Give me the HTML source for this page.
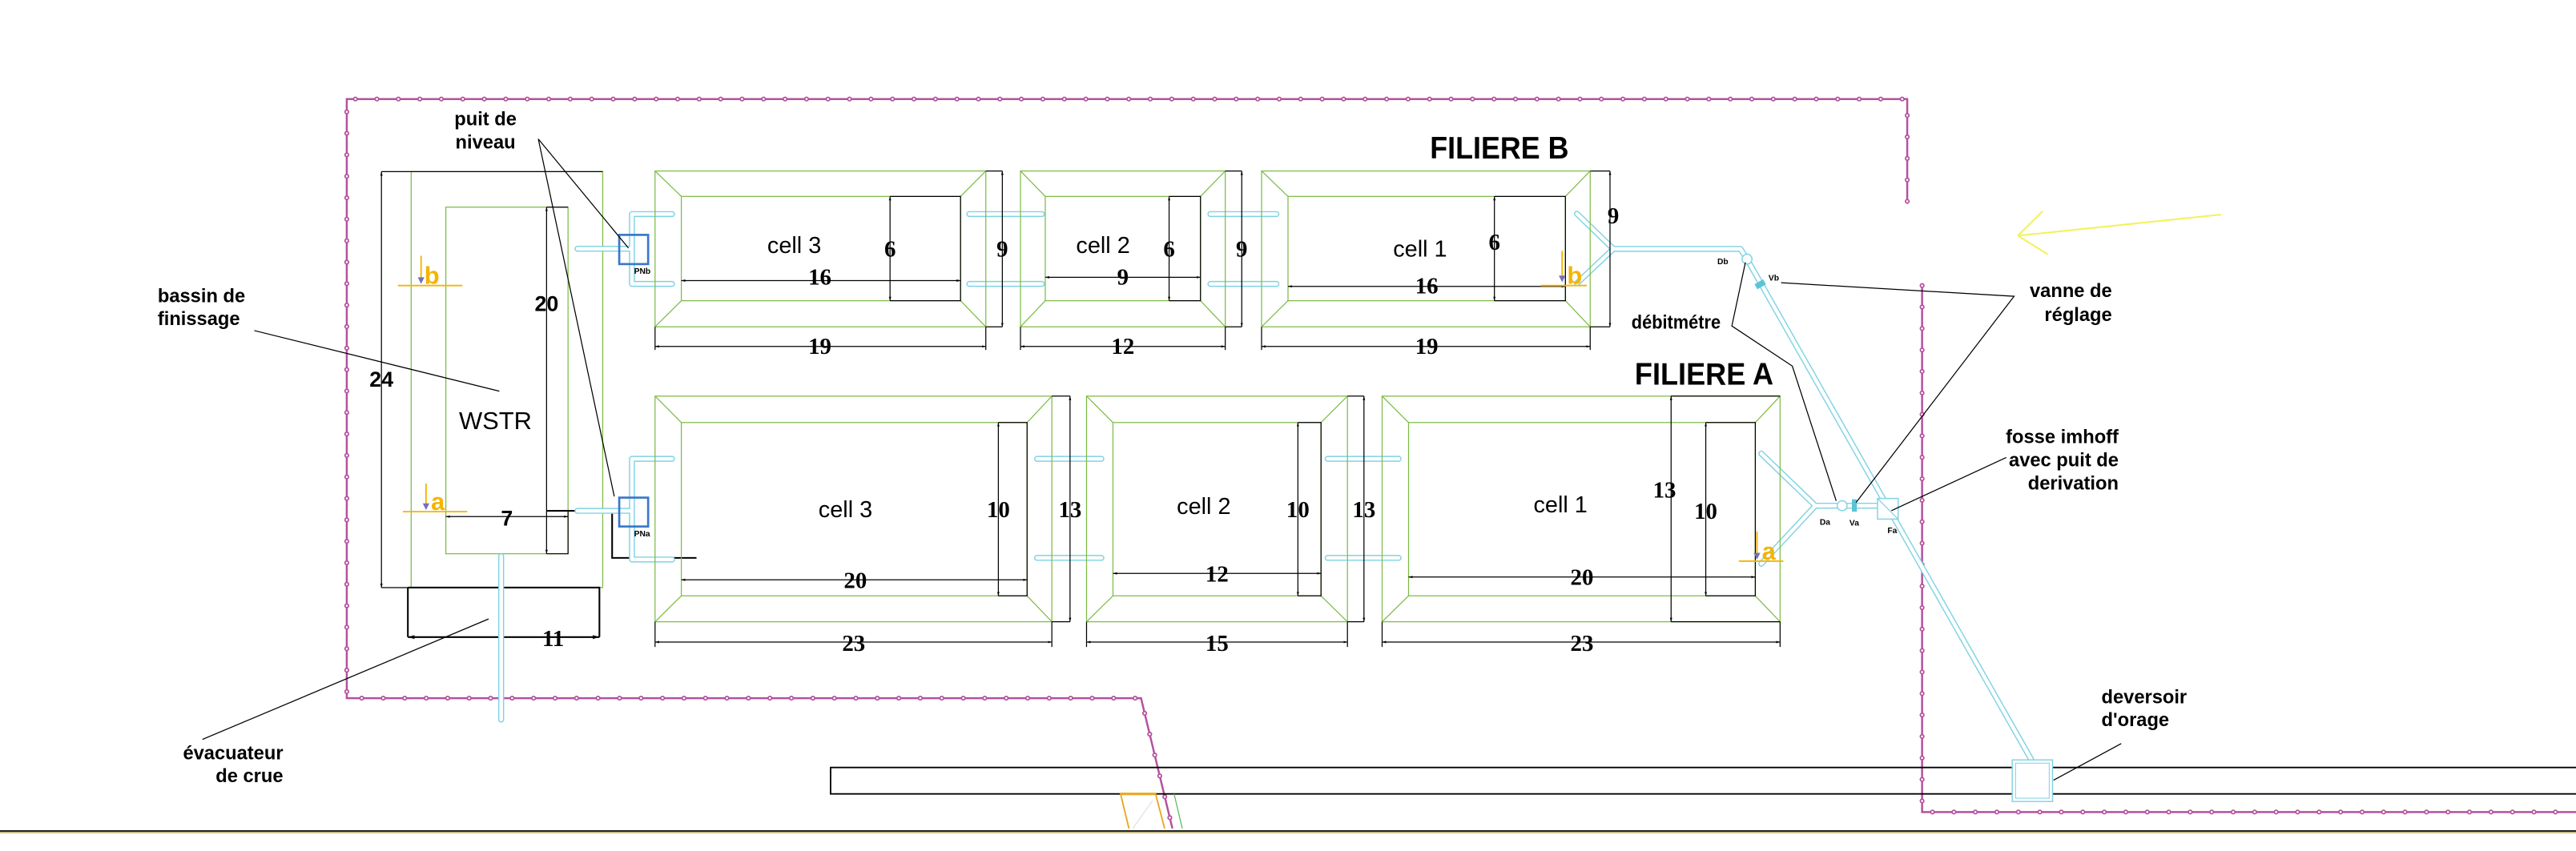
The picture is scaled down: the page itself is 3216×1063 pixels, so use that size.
<!DOCTYPE html>
<html><head><meta charset="utf-8"><style>
html,body{margin:0;padding:0;background:#fff;}
svg{display:block;}
.g{fill:none;stroke:#7dbb45;stroke-width:0.6}
.k{fill:none;stroke:#000;stroke-width:0.6}
.kb{fill:none;stroke:#000;stroke-width:1}
.n{font-family:"Liberation Serif",serif;font-size:14px;font-weight:bold;fill:#000;text-anchor:middle;dominant-baseline:central}
.c{font-family:"Liberation Sans",sans-serif;font-size:14px;fill:#000;text-anchor:middle;dominant-baseline:central}
.l{font-family:"Liberation Sans",sans-serif;font-weight:bold;font-size:11.5px;fill:#000}
.s{font-family:"Liberation Sans",sans-serif;font-weight:bold;font-size:5px;fill:#000}
.t{font-family:"Liberation Sans",sans-serif;font-weight:bold;font-size:19px;fill:#000}
.o{font-family:"Liberation Sans",sans-serif;font-weight:bold;font-size:15px;fill:#f5b400}
.p1{fill:none;stroke:#7fd3e3;stroke-width:3.6;stroke-linecap:round;stroke-linejoin:round}
.p2{fill:none;stroke:#fff;stroke-width:2.2;stroke-linecap:round;stroke-linejoin:round}
.f1{fill:none;stroke:#b5519e;stroke-width:1.2}
.f2{fill:none;stroke:#b5519e;stroke-width:3;stroke-dasharray:0.01 13;stroke-linecap:round}
.f3{fill:none;stroke:#fff;stroke-width:1.3;stroke-dasharray:0.01 13;stroke-linecap:round}
.or{stroke:#f5b400;stroke-width:0.9;fill:none}
</style></head><body>
<svg width="3216" height="1063" viewBox="0 0 1560 515.6" preserveAspectRatio="none" xmlns="http://www.w3.org/2000/svg">
<defs>
<marker id="ar" viewBox="0 0 10 10" refX="10" refY="5" markerWidth="4" markerHeight="4" orient="auto-start-reverse"><path d="M0,2 L10,5 L0,8 z" fill="#000"/></marker>
</defs>

<g>
<path class="f1" d="M1155,122 V60 H210 V423 H691 L710,502"/>
<path class="f2" d="M1155,122 V60 H210 V423 H691 L710,502"/>
<path class="f3" d="M1155,122 V60 H210 V423 H691 L710,502"/>
<path class="f1" d="M1164,173 V492 H1560"/>
<path class="f2" d="M1164,173 V492 H1560"/>
<path class="f3" d="M1164,173 V492 H1560"/>
</g>

<rect x="503" y="465" width="1060" height="16" fill="none" stroke="#000" stroke-width="0.9"/>
<line x1="0" y1="503.5" x2="1560" y2="503.5" stroke="#222" stroke-width="1"/>
<line x1="0" y1="504.5" x2="1560" y2="504.5" stroke="#b59a3a" stroke-width="0.5"/>
<path d="M683.7,502 L678.6,481 H699.8 L705.3,502" fill="none" stroke="#e8a820" stroke-width="0.9"/>
<line x1="678.6" y1="481" x2="699.8" y2="481" stroke="#e8a820" stroke-width="1.5"/>
<line x1="711" y1="481" x2="716" y2="502" stroke="#5bb85b" stroke-width="0.6"/>
<line x1="686" y1="502" x2="698" y2="485" stroke="#ddd" stroke-width="0.5"/>

<g stroke="#f2f25a" stroke-width="1" fill="none">
<line x1="1345" y1="130" x2="1222" y2="142.8"/>
<line x1="1222" y1="142.8" x2="1237" y2="128"/>
<line x1="1222" y1="142.8" x2="1240" y2="154"/>
</g>

<rect class="g" x="249" y="104" width="116" height="252"/>
<rect class="g" x="270" y="125.5" width="74" height="210"/>
<path class="k" d="M231,104 H365"/>
<line class="k" x1="231" y1="104" x2="231" y2="356" marker-start="url(#ar)" marker-end="url(#ar)"/>
<path class="k" d="M231,356 H249"/>
<text class="n" x="231" y="230" style="font-size:13px;font-family:'Liberation Sans',sans-serif">24</text>
<path class="k" d="M331,125.5 H344 M344,309 V335.5 H331"/>
<line class="k" x1="331" y1="125.5" x2="331" y2="335.5" marker-start="url(#ar)" marker-end="url(#ar)"/>
<text class="n" x="331" y="184" style="font-size:13px;font-family:'Liberation Sans',sans-serif;font-weight:bold">20</text>
<line class="k" x1="270" y1="313" x2="344" y2="313" marker-start="url(#ar)" marker-end="url(#ar)"/>
<text class="n" x="307" y="314" style="font-size:13px;font-family:'Liberation Sans',sans-serif">7</text>
<path class="kb" d="M247,356 H363 V386 M247,356 V386"/>
<line class="kb" x1="247" y1="386" x2="363" y2="386" marker-start="url(#ar)" marker-end="url(#ar)"/>
<text class="n" x="335" y="387" style="font-size:14px;font-weight:bold">11</text>
<path class="kb" d="M331,309.5 H370.7 V338 H421.8"/>
<text class="c" x="300" y="255" style="font-size:15px">WSTR</text>
<line class="or" x1="241" y1="173" x2="280" y2="173"/>
<line class="or" x1="255" y1="155" x2="255" y2="171"/>
<path d="M253,168 L257,168 L255,172 z" fill="#7070c0"/>
<text class="o" x="257" y="172">b</text>
<line class="or" x1="244" y1="310" x2="283" y2="310"/>
<line class="or" x1="258" y1="293" x2="258" y2="308"/>
<path d="M256,305 L260,305 L258,309 z" fill="#7070c0"/>
<text class="o" x="261" y="309">a</text>

<g>
<path class="p1" d="
M303.5,337 V436
M349.7,150.7 H382 M382.7,129.7 V172 M382.7,129.7 H407 M382.7,172 H407
M349.7,309.5 H382 M382.7,278 V339 M382.7,278 H407 M382.7,339 H407
M587,129.7 H631 M587,172 H631 M733,129.7 H773 M733,172 H773
M628,278 H667 M628,338 H667 M804,278 H847 M804,338 H847
M955,129.5 L977,150.8 L955,171.6 M977,150.8 H1054 L1058,157 L1230,460
M1066.6,274.8 L1099.4,306.4 L1066.6,341.6 M1099.4,306.4 H1137"/>
<path class="p2" d="
M303.5,337 V436
M349.7,150.7 H382 M382.7,129.7 V172 M382.7,129.7 H407 M382.7,172 H407
M349.7,309.5 H382 M382.7,278 V339 M382.7,278 H407 M382.7,339 H407
M587,129.7 H631 M587,172 H631 M733,129.7 H773 M733,172 H773
M628,278 H667 M628,338 H667 M804,278 H847 M804,338 H847
M955,129.5 L977,150.8 L955,171.6 M977,150.8 H1054 L1058,157 L1230,460
M1066.6,274.8 L1099.4,306.4 L1066.6,341.6 M1099.4,306.4 H1137"/>
</g>
<rect x="375" y="142.3" width="17.5" height="17.7" fill="none" stroke="#3a78c8" stroke-width="1.3"/>
<rect x="375" y="301.5" width="17.5" height="17.5" fill="none" stroke="#3a78c8" stroke-width="1.3"/>
<text class="s" x="384" y="166">PNb</text>
<text class="s" x="384" y="325">PNa</text>

<circle cx="1058" cy="157" r="3" fill="#fff" stroke="#7fd3e3" stroke-width="0.7"/>
<rect x="1063" y="170.5" width="6" height="3.5" fill="#5bc3d8" transform="rotate(-30 1066 172.3)"/>
<circle cx="1115.6" cy="306.4" r="3" fill="#fff" stroke="#7fd3e3" stroke-width="0.7"/>
<rect x="1121.5" y="302.5" width="3" height="7.5" fill="#5bc3d8"/>
<rect x="1137" y="302" width="12.5" height="12.5" fill="#fff" stroke="#7fd3e3" stroke-width="0.7"/>
<line x1="1137" y1="302" x2="1149.5" y2="314.5" stroke="#7fd3e3" stroke-width="0.6"/>
<rect x="1218.6" y="460.4" width="24.4" height="25.2" fill="#fff" stroke="#7fd3e3" stroke-width="0.7"/>
<rect x="1220.6" y="462.4" width="20.4" height="21.2" fill="none" stroke="#7fd3e3" stroke-width="0.5"/>
<text class="s" x="1040" y="160">Db</text>
<text class="s" x="1071" y="170">Vb</text>
<text class="s" x="1102" y="318">Da</text>
<text class="s" x="1120" y="318.5">Va</text>
<text class="s" x="1143" y="323">Fa</text>

<g class="g">
<rect x="396.7" y="103.6" width="200.3" height="94.4"/><rect x="412.6" y="119" width="169.1" height="63.2"/>
<path d="M396.7,103.6 L412.6,119 M597,103.6 L581.7,119 M396.7,198 L412.6,182.2 M597,198 L581.7,182.2"/>
<rect x="618" y="103.6" width="124" height="94.4"/><rect x="633" y="119" width="94" height="63.2"/>
<path d="M618,103.6 L633,119 M742,103.6 L727,119 M618,198 L633,182.2 M742,198 L727,182.2"/>
<rect x="764" y="103.6" width="199" height="94.4"/><rect x="780" y="119" width="168" height="63.2"/>
<path d="M764,103.6 L780,119 M963,103.6 L948,119 M764,198 L780,182.2 M963,198 L948,182.2"/>
<rect x="396.7" y="240" width="240.3" height="136.7"/><rect x="412.6" y="256" width="209.4" height="105"/>
<path d="M396.7,240 L412.6,256 M637,240 L622,256 M396.7,376.7 L412.6,361 M637,376.7 L622,361"/>
<rect x="658" y="240" width="158" height="136.7"/><rect x="674" y="256" width="126" height="105"/>
<path d="M658,240 L674,256 M816,240 L800,256 M658,376.7 L674,361 M816,376.7 L800,361"/>
<rect x="837" y="240" width="241" height="136.7"/><rect x="853" y="256" width="210" height="105"/>
<path d="M837,240 L853,256 M1078,240 L1063,256 M837,376.7 L853,361 M1078,376.7 L1063,361"/>
</g>

<g class="k">
<path d="M539,119 H581.7 V182.2 H539"/><line x1="539" y1="119" x2="539" y2="182.2" marker-start="url(#ar)" marker-end="url(#ar)"/>
<line x1="412.6" y1="170" x2="581.7" y2="170" marker-start="url(#ar)" marker-end="url(#ar)"/>
<path d="M597,103.6 H607 M597,198 H607 M396.7,198 V212 M597,198 V212"/>
<line x1="607" y1="103.6" x2="607" y2="198" marker-start="url(#ar)" marker-end="url(#ar)"/>
<line x1="396.7" y1="209.9" x2="597" y2="209.9" marker-start="url(#ar)" marker-end="url(#ar)"/>

<path d="M708,119 H727 V182.2 H708"/><line x1="708" y1="119" x2="708" y2="182.2" marker-start="url(#ar)" marker-end="url(#ar)"/>
<line x1="633" y1="168" x2="727" y2="168" marker-start="url(#ar)" marker-end="url(#ar)"/>
<path d="M742,103.6 H752 M742,198 H752 M618,198 V212 M742,198 V212"/>
<line x1="752" y1="103.6" x2="752" y2="198" marker-start="url(#ar)" marker-end="url(#ar)"/>
<line x1="618" y1="209.9" x2="742" y2="209.9" marker-start="url(#ar)" marker-end="url(#ar)"/>

<path d="M905,119 H948 V182.2 H905"/><line x1="905" y1="119" x2="905" y2="182.2" marker-start="url(#ar)" marker-end="url(#ar)"/>
<line x1="780" y1="173.5" x2="948" y2="173.5" marker-start="url(#ar)" marker-end="url(#ar)"/>
<path d="M963,103.6 H975 M963,198 H975 M764,198 V212 M963,198 V212"/>
<line x1="975" y1="103.6" x2="975" y2="198" marker-start="url(#ar)" marker-end="url(#ar)"/>
<line x1="764" y1="209.9" x2="963" y2="209.9" marker-start="url(#ar)" marker-end="url(#ar)"/>
</g>
<g class="k">
<path d="M604.6,256 H622 V361 H604.6"/><line x1="604.6" y1="256" x2="604.6" y2="361" marker-start="url(#ar)" marker-end="url(#ar)"/>
<line x1="412.6" y1="351.3" x2="622" y2="351.3" marker-start="url(#ar)" marker-end="url(#ar)"/>
<path d="M637,240 H648 M637,376.7 H648 M396.7,376.7 V392 M637,376.7 V392"/>
<line x1="648" y1="240" x2="648" y2="376.7" marker-start="url(#ar)" marker-end="url(#ar)"/>
<line x1="396.7" y1="389" x2="637" y2="389" marker-start="url(#ar)" marker-end="url(#ar)"/>

<path d="M786,256 H800 V361 H786"/><line x1="786" y1="256" x2="786" y2="361" marker-start="url(#ar)" marker-end="url(#ar)"/>
<line x1="674" y1="347.4" x2="800" y2="347.4" marker-start="url(#ar)" marker-end="url(#ar)"/>
<path d="M816,240 H826 M816,376.7 H826 M658,376.7 V392 M816,376.7 V392"/>
<line x1="826" y1="240" x2="826" y2="376.7" marker-start="url(#ar)" marker-end="url(#ar)"/>
<line x1="658" y1="389" x2="816" y2="389" marker-start="url(#ar)" marker-end="url(#ar)"/>

<path d="M1033,256 H1063 V361 H1033"/><line x1="1033" y1="256" x2="1033" y2="361" marker-start="url(#ar)" marker-end="url(#ar)"/>
<line x1="853" y1="349.6" x2="1063" y2="349.6" marker-start="url(#ar)" marker-end="url(#ar)"/>
<path d="M1012,240 H1078 M1012,376.7 H1078 M837,376.7 V392 M1078,376.7 V392"/>
<line x1="1012" y1="240" x2="1012" y2="376.7" marker-start="url(#ar)" marker-end="url(#ar)"/>
<line x1="837" y1="389" x2="1078" y2="389" marker-start="url(#ar)" marker-end="url(#ar)"/>
</g>

<g class="n">
<text x="539" y="151">6</text><text x="496.5" y="168">16</text><text x="607" y="151">9</text><text x="496.5" y="210">19</text>
<text x="708" y="151">6</text><text x="680" y="168">9</text><text x="752" y="151">9</text><text x="680" y="210">12</text>
<text x="905" y="147">6</text><text x="864" y="173.5">16</text><text x="977" y="131">9</text><text x="864" y="210">19</text>
<text x="604.6" y="309">10</text><text x="518" y="352">20</text><text x="648" y="309">13</text><text x="517" y="390">23</text>
<text x="786" y="309">10</text><text x="737" y="348">12</text><text x="826" y="309">13</text><text x="737" y="390">15</text>
<text x="1033" y="310">10</text><text x="958" y="350">20</text><text x="1008" y="297">13</text><text x="958" y="390">23</text>
</g>

<g class="c">
<text x="481" y="149">cell 3</text><text x="668" y="149">cell 2</text><text x="860" y="151">cell 1</text>
<text x="512" y="309">cell 3</text><text x="729" y="307">cell 2</text><text x="945" y="306">cell 1</text>
</g>

<line class="or" x1="933" y1="173" x2="961" y2="173"/>
<line class="or" x1="946" y1="152" x2="946" y2="170"/>
<path d="M944,167 L948,167 L946,171 z" fill="#7070c0"/>
<text class="o" x="949" y="172">b</text>
<line class="or" x1="1053" y1="340" x2="1080" y2="340"/>
<line class="or" x1="1064" y1="322" x2="1064" y2="338"/>
<path d="M1062,335 L1066,335 L1064,339 z" fill="#7070c0"/>
<text class="o" x="1067" y="339">a</text>

<text class="t" x="866" y="96" textLength="84" lengthAdjust="spacingAndGlyphs">FILIERE B</text>
<text class="t" x="990" y="233" textLength="84" lengthAdjust="spacingAndGlyphs">FILIERE A</text>

<text class="l" x="294" y="76" text-anchor="middle">puit de</text>
<text class="l" x="294" y="90" text-anchor="middle">niveau</text>
<text class="l" x="95.5" y="183">bassin de</text>
<text class="l" x="95.5" y="197">finissage</text>
<text class="l" x="171.5" y="460" text-anchor="end">évacuateur</text>
<text class="l" x="171.5" y="474" text-anchor="end">de crue</text>
<text class="l" x="988" y="199" textLength="54" lengthAdjust="spacingAndGlyphs">débitmétre</text>
<text class="l" x="1279" y="180" text-anchor="end">vanne de</text>
<text class="l" x="1279" y="194.5" text-anchor="end">réglage</text>
<text class="l" x="1283" y="268.5" text-anchor="end">fosse imhoff</text>
<text class="l" x="1283" y="282.5" text-anchor="end">avec puit de</text>
<text class="l" x="1283" y="296.5" text-anchor="end">derivation</text>
<text class="l" x="1272.6" y="426">deversoir</text>
<text class="l" x="1272.6" y="440">d'orage</text>

<g stroke="#000" stroke-width="0.6" fill="none">
<path d="M380.6,150.3 L326,84.2 L372,300.8"/>
<path d="M154,200.3 L302.4,237"/>
<path d="M122.6,448 L295.9,375"/>
<path d="M1057,159 L1048.8,197.5 L1085.4,221.8 L1112,303.5"/>
<path d="M1078.6,171.3 L1219.7,179.5 L1124,304.5"/>
<path d="M1215,277.2 L1145.4,309.4"/>
<path d="M1284.6,450.5 L1243.6,472.7"/>
</g>
</svg>
</body></html>
